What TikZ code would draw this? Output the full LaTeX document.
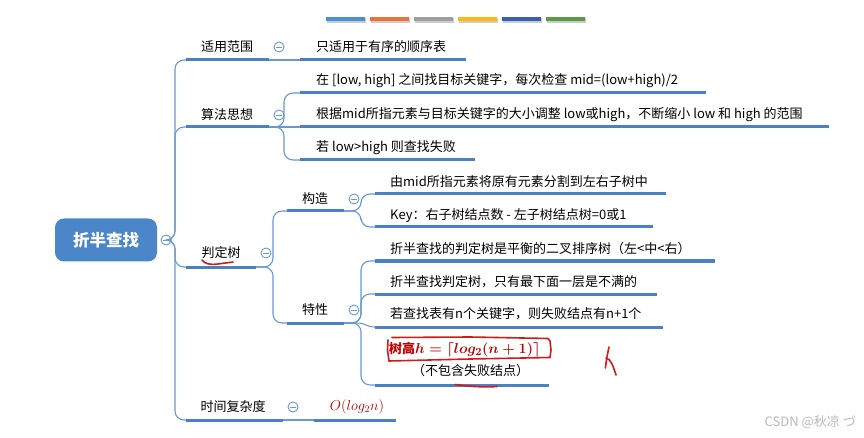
\documentclass[tikz,border=0pt]{standalone}
\usepackage{fontspec}
\setmainfont{Noto Sans CJK SC}
\definecolor{ul}{RGB}{74,128,196}
\definecolor{cn}{RGB}{105,152,212}
\definecolor{rootc}{RGB}{74,134,200}
\definecolor{fred}{RGB}{192,0,0}
\definecolor{hred}{RGB}{214,24,24}
\definecolor{wm}{RGB}{185,185,185}
\definecolor{bA}{RGB}{74,143,208}
\definecolor{bB}{RGB}{232,116,59}
\definecolor{bC}{RGB}{158,158,158}
\definecolor{bD}{RGB}{253,185,19}
\definecolor{bE}{RGB}{58,95,174}
\definecolor{bF}{RGB}{91,155,69}
\newcommand{\formulah}{\mathversion{bold}$h=\lceil log_2(n+1)\rceil$}
\begin{document}
\begin{tikzpicture}[x=1pt,y=-1pt,
  ulline/.style={ul, line width=3pt},
  conn/.style={cn, line width=1.1pt, rounded corners=9pt},
  lbl/.style={inner sep=0pt, font=\fontsize{13}{15}\selectfont, text=black},
  toggle/.style={circle, draw=cn, line width=0.9pt, fill=white, minimum size=10pt, inner sep=0pt,
    path picture={\draw[cn, line width=0.8pt] ([xshift=-2.6pt]path picture bounding box.center) -- ([xshift=2.6pt]path picture bounding box.center);}},
  rootbox/.style={rounded corners=9pt, fill=rootc, minimum width=102pt, minimum height=43pt, inner sep=0pt,
    text=white, font=\bfseries\fontsize{16.5}{18}\selectfont},
  hand/.style={hred, line width=1.6pt, line cap=round, line join=round}
]
\useasboundingbox (0,0) rectangle (864,438);

% colour bars
\foreach \i/\c in {0/bA,1/bB,2/bC,3/bD,4/bE,5/bF}{
  \fill[black!20] (326.6+44*\i,18.4) rectangle ++(39,4.2);
  \fill[\c] (326+44*\i,17.4) rectangle ++(39,4);
}

% root
\node[rootbox] (root) at (106,240) {折半查找};
\node[toggle] (c0) at (166,240) {};
\coordinate (j) at (175,240);

% ---- 适用范围
\node[lbl] (t1) at (227,47) {适用范围};
\coordinate (u1s) at (186,60); \coordinate (u1e) at (269,60);
\node[toggle] (c1) at (279,47) {};
\node[lbl, anchor=west] (a0) at (316,47) {只适用于有序的顺序表};
\coordinate (a0s) at (300,60); \coordinate (a0e) at (466,60);

% ---- 算法思想
\node[lbl] (t2) at (227,115) {算法思想};
\coordinate (u2s) at (186,127); \coordinate (u2e) at (269,127);
\node[toggle] (c2) at (279,115) {};
\coordinate (p2) at (284,127);
\node[lbl, anchor=west] (a1) at (316,81) {在 [low, high] 之间找目标关键字，每次检查 mid=(low+high)/2};
\coordinate (a1s) at (300,93); \coordinate (a1e) at (706,93);
\node[lbl, anchor=west] (a2) at (316,115) {根据mid所指元素与目标关键字的大小调整 low或high，不断缩小 low 和 high 的范围};
\coordinate (a2s) at (300,127); \coordinate (a2e) at (829,127);
\node[lbl, anchor=west] (a3) at (316,148) {若 low>high 则查找失败};
\coordinate (a3s) at (300,160); \coordinate (a3e) at (475,160);

% ---- 判定树
\node[lbl] (t3) at (221,253) {判定树};
\coordinate (u3s) at (186,267); \coordinate (u3e) at (256,267);
\node[toggle] (c3) at (266,253) {};
\coordinate (p3) at (273,267);
% 构造
\node[lbl] (t31) at (315,199) {构造};
\coordinate (u31s) at (287,211); \coordinate (u31e) at (344,211);
\node[toggle] (c31) at (354,199) {};
\coordinate (p31) at (361,211);
\node[lbl, anchor=west] (b1) at (390,182) {由mid所指元素将原有元素分割到左右子树中};
\coordinate (b1s) at (375,194); \coordinate (b1e) at (666,194);
\node[lbl, anchor=west] (b2) at (390,216) {Key：右子树结点数 - 左子树结点树=0或1};
\coordinate (b2s) at (375,227); \coordinate (b2e) at (653,227);
% 特性
\node[lbl] (t32) at (315,310) {特性};
\coordinate (u32s) at (287,323); \coordinate (u32e) at (344,323);
\node[toggle] (c32) at (354,310) {};
\coordinate (p32) at (361,323);
\coordinate (q32) at (357,323);
\node[lbl, anchor=west] (d1) at (390,249) {折半查找的判定树是平衡的二叉排序树（左<中<右）};
\coordinate (d1s) at (375,261); \coordinate (d1e) at (715,261);
\node[lbl, anchor=west] (d2) at (390,282) {折半查找判定树，只有最下面一层是不满的};
\coordinate (d2s) at (375,294); \coordinate (d2e) at (657,294);
\node[lbl, anchor=west] (d3) at (390,314) {若查找表有n个关键字，则失败结点有n+1个};
\coordinate (d3s) at (375,327); \coordinate (d3e) at (663,327);
\node[lbl, anchor=west, text=fred] (d4) at (389,350) {\textbf{树高}{\fontsize{15}{17}\selectfont\formulah}};
\node[lbl, anchor=west] (d4b) at (412,371) {（不包含失败结点）};
\coordinate (d4s) at (375,385); \coordinate (d4e) at (549,385);

% ---- 时间复杂度
\node[lbl] (t4) at (233,407) {时间复杂度};
\coordinate (u4s) at (186,420); \coordinate (u4e) at (283,420);
\node[toggle] (c4) at (293,407) {};
\node[lbl, text=fred, font=\fontsize{14}{16}\selectfont] (o1) at (357,407) {$O(log_2n)$};
\coordinate (o1s) at (314,420); \coordinate (o1e) at (396,420);

% connectors
\draw[conn] (c0.east) -- (j) |- (u1s);
\draw[conn] (c0.east) -- (j) |- (u2s);
\draw[conn] (c0.east) -- (j) |- (u3s);
\draw[conn] (c0.east) -- (j) |- (u4s);
\draw[conn] (u1e) -- (a0s);
\draw[conn] (u2e) -- (p2) |- (a1s);
\draw[conn] (u2e) -- (a2s);
\draw[conn] (u2e) -- (p2) |- (a3s);
\draw[conn] (u3e) -- (p3) |- (u31s);
\draw[conn] (u3e) -- (p3) |- (u32s);
\draw[conn] (u31e) -- (p31) |- (b1s);
\draw[conn] (u31e) -- (p31) |- (b2s);
\draw[conn] (u32e) -- (p32) |- (d1s);
\draw[conn] (u32e) -- (p32) |- (d2s);
\draw[cn, line width=1.1pt] (u32e) -- (q32) .. controls (366,323) and (366,327) .. (d3s);
\draw[conn] (u32e) -- (p32) |- (d4s);
\draw[conn] (u4e) -- (o1s);

% underlines
\foreach \a/\b in {u1s/u1e,a0s/a0e,u2s/u2e,a1s/a1e,a2s/a2e,a3s/a3e,u3s/u3e,u31s/u31e,b1s/b1e,b2s/b2e,u32s/u32e,d1s/d1e,d2s/d2e,d3s/d3e,d4s/d4e,u4s/u4e,o1s/o1e}
  \draw[ulline] (\a) -- (\b);

% hand-drawn red annotations
\draw[hand] (392,337.5) -- (470,337) -- (548,338.5) -- (550,341) -- (551,350) -- (550,357.5) -- (470,359) -- (389,361) -- (387.5,350) -- (388,340);
\draw[hand] (202,260) .. controls (205,264) and (210,265) .. (218,264) .. controls (225,263) and (230,262.5) .. (233,262);
\draw[hand] (455,384.5) .. controls (470,386.5) and (485,387.5) .. (497,386.5);
\draw[hand] (609,347) .. controls (607.5,354) and (606,361) .. (605.5,368);
\draw[hand] (606,358) .. controls (611,359) and (613,366) .. (616,375);

% watermark
\node[inner sep=0pt, font=\fontsize{13}{15}\selectfont, text=wm, anchor=east] (wmk) at (856,422) {CSDN @秋凉 づ};
\end{tikzpicture}
\end{document}
